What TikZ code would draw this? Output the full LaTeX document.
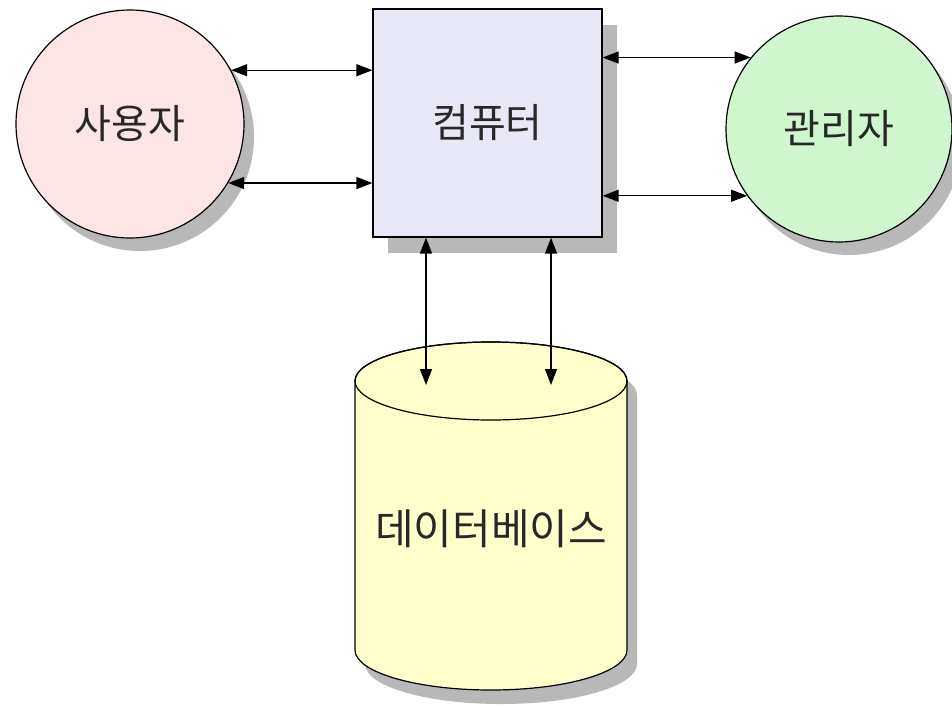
\documentclass[tikz,border=0pt]{standalone}
\usepackage{fontspec}
\newfontfamily\kr{Noto Sans CJK KR}
\usetikzlibrary{arrows.meta}
\definecolor{pinkfill}{RGB}{252,229,229}
\definecolor{boxfill}{RGB}{231,231,245}
\definecolor{greenfill}{RGB}{207,246,207}
\definecolor{yellowfill}{RGB}{255,255,204}
\definecolor{shadowgray}{RGB}{184,184,184}
\definecolor{textgray}{RGB}{40,40,40}
\begin{document}
\begin{tikzpicture}[x=1pt,y=-1pt,
  >={Triangle[length=16pt,width=12pt]},
  shape line/.style={draw=black,line width=1.2pt},
  label text/.style={font=\kr\fontsize{40}{44}\selectfont,text=textgray},
  actor/.style={circle,shape line,inner sep=0pt,minimum size=228pt,label text},
  arr/.style={line width=1.3pt,<->}]
\useasboundingbox[fill=white] (0,0) rectangle (952,706);
% shadows
\fill[shadowgray] (140,137) circle[radius=114pt];
\fill[shadowgray] (849,142) circle[radius=113pt];
\fill[shadowgray] (388,25) rectangle (617,253);
\begin{scope}[shift={(10,14)}]
\fill[shadowgray] (355,381) -- (355,650) arc[start angle=180,end angle=360,x radius=136pt,y radius=40pt] -- (627,381) arc[start angle=0,end angle=180,x radius=136pt,y radius=39pt] -- cycle;
\end{scope}
% database cylinder
\filldraw[fill=yellowfill,shape line] (355,381) -- (355,650) arc[start angle=180,end angle=360,x radius=136pt,y radius=40pt] -- (627,381) arc[start angle=0,end angle=180,x radius=136pt,y radius=39pt] -- cycle;
\draw[shape line] (491,381) ellipse[x radius=136pt,y radius=39pt];
\node[label text,font=\kr\fontsize{42}{46}\selectfont] (db) at (491,529) {데이터베이스};
% nodes
\node[actor,fill=pinkfill] (user) at (130,124) {사용자};
\node[actor,fill=greenfill,minimum size=226pt] (admin) at (839,129) {관리자};
\node[shape line,fill=boxfill,minimum width=229pt,minimum height=228pt,label text] (comp) at (487.5,123) {컴퓨터};
% connectors
\draw[arr] (user.28) -- (user.28 -| comp.west);
\draw[arr] (user.-31) -- (user.-31 -| comp.west);
\draw[arr] (admin.141) -- (admin.141 -| comp.east);
\draw[arr] (admin.216) -- (admin.216 -| comp.east);
\coordinate (d1) at (426,385);
\coordinate (d2) at (551,385);
\draw[arr] (d1 |- comp.south) -- (d1);
\draw[arr] (d2 |- comp.south) -- (d2);
\end{tikzpicture}
\end{document}
